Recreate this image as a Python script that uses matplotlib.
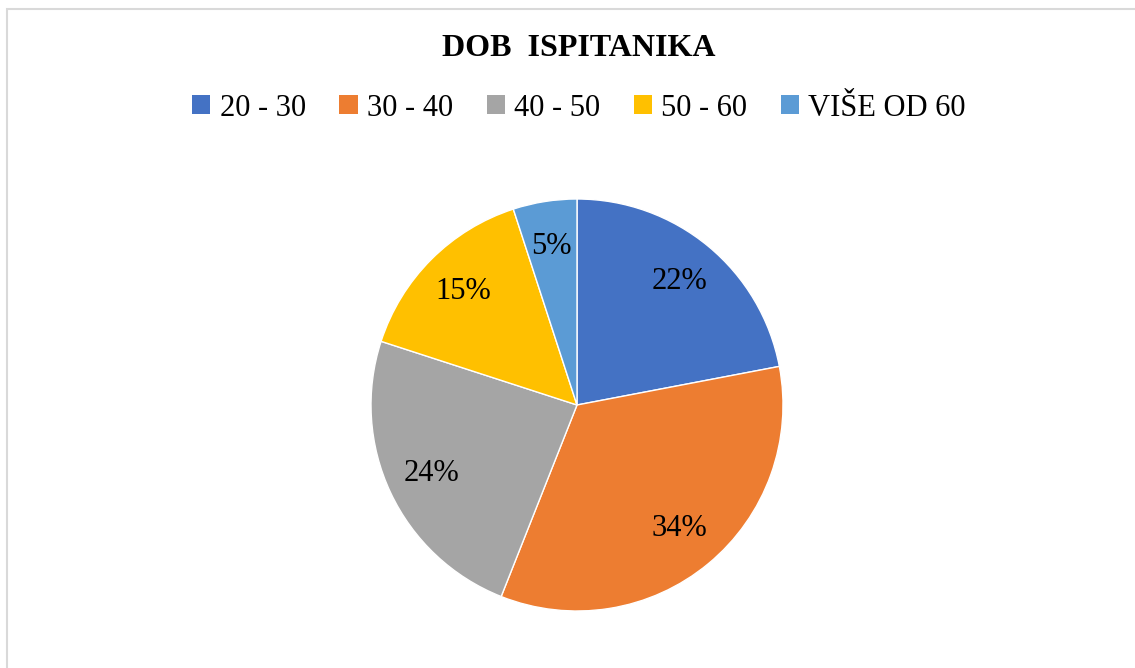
import matplotlib.pyplot as plt
from matplotlib.patches import Rectangle, Patch

# age groups of respondents
categories = ['20 - 30', '30 - 40', '40 - 50', '50 - 60', 'VIŠE OD 60']
shares = [22, 34, 24, 15, 5]
colors = ['#4472C4', '#ED7D31', '#A5A5A5', '#FFC000', '#5B9BD5']

plt.rcParams['font.family'] = ['Liberation Serif', 'DejaVu Serif']

W, H = 1135, 668
fig = plt.figure(figsize=(W / 100, H / 100), dpi=100)

# light chart-area border (only top/left visible in the crop)
fig.patches.append(Rectangle((7 / W, -0.1), 1.2, (H - 9) / H + 0.1,
                             transform=fig.transFigure, fill=False,
                             edgecolor='#D9D9D9', linewidth=1.5))

cx, cy, r = 577, 405, 206
ax = fig.add_axes([(cx - r) / W, (H - cy - r) / H, 2 * r / W, 2 * r / H])
ax.pie(shares, colors=colors, startangle=90, counterclock=False,
       autopct='%d%%', pctdistance=0.78,
       wedgeprops=dict(edgecolor='white', linewidth=1.0),
       textprops=dict(fontsize=22, color='black'))
ax.set_xlim(-1, 1)
ax.set_ylim(-1, 1)
ax.set_aspect('equal')

fig.text(579 / W, 1 - 49 / H, 'DOB  ISPITANIKA', ha='center', va='center',
         fontsize=23, fontweight='bold')

handles = [Patch(facecolor=c, edgecolor='none') for c in colors]
fig.legend(handles, categories, loc='center', bbox_to_anchor=(579 / W, 1 - 108 / H),
           ncol=5, frameon=False, fontsize=22, handlelength=0.6, handleheight=0.6,
           handletextpad=0.3, columnspacing=1.1)

fig.savefig('out.png', dpi=100)
